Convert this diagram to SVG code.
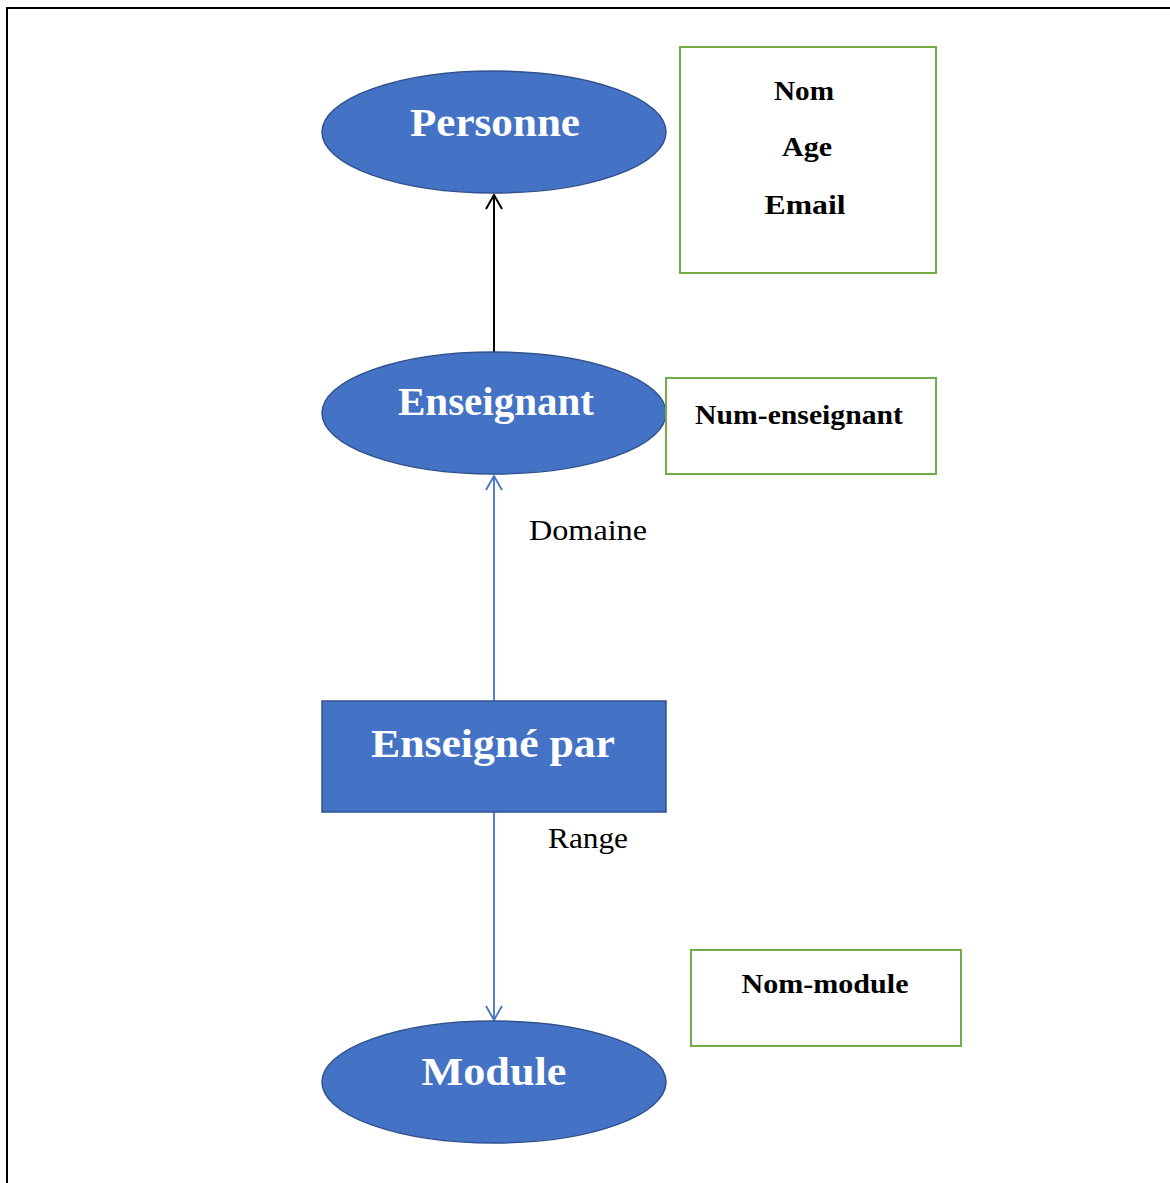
<svg xmlns="http://www.w3.org/2000/svg" width="1170" height="1183" viewBox="0 0 1170 1183">
  <defs>
    <style>
      .entity { fill: #4472C4; stroke: #2F528F; stroke-width: 1.5; }
      .entity-label { font-family: "Liberation Serif", "Times New Roman", serif; font-weight: bold; font-size: 40px; fill: #ffffff; text-anchor: middle; }
      .attr-box { fill: #ffffff; stroke: #70AD47; stroke-width: 2; }
      .attr-label { font-family: "Liberation Serif", "Times New Roman", serif; font-weight: bold; font-size: 28px; fill: #000000; text-anchor: middle; }
      .role-label { font-family: "Liberation Serif", "Times New Roman", serif; font-size: 30px; fill: #000000; text-anchor: middle; }
      .link-black { stroke: #000000; stroke-width: 2; fill: none; }
      .link-blue { stroke: #4472C4; stroke-width: 1.8; fill: none; }
    </style>
    <marker id="open-black" markerUnits="userSpaceOnUse" viewBox="0 0 18 18" markerWidth="18" markerHeight="18" refX="16" refY="9" orient="auto">
      <path d="M2,1 L16,9 L2,17" fill="none" stroke="#000000" stroke-width="2"/>
    </marker>
    <marker id="open-blue" markerUnits="userSpaceOnUse" viewBox="0 0 18 18" markerWidth="18" markerHeight="18" refX="16" refY="9" orient="auto">
      <path d="M2,1 L16,9 L2,17" fill="none" stroke="#4472C4" stroke-width="1.8"/>
    </marker>
  </defs>

  <!-- page frame -->
  <rect x="7" y="8" width="1180" height="1200" fill="#ffffff" stroke="#000000" stroke-width="2"/>

  <!-- connectors -->
  <g id="connectors">
    <line class="link-black" x1="494" y1="352" x2="494" y2="195" marker-end="url(#open-black)"/>
    <line class="link-blue" x1="494" y1="701" x2="494" y2="476" marker-end="url(#open-blue)"/>
    <line class="link-blue" x1="494" y1="812" x2="494" y2="1020" marker-end="url(#open-blue)"/>
    <text class="role-label" x="588" y="540" textLength="118" lengthAdjust="spacingAndGlyphs">Domaine</text>
    <text class="role-label" x="588" y="848" textLength="80" lengthAdjust="spacingAndGlyphs">Range</text>
  </g>

  <!-- Personne -->
  <g id="personne">
    <ellipse class="entity" cx="494" cy="132" rx="172" ry="61"/>
    <text class="entity-label" x="495" y="136" textLength="170" lengthAdjust="spacingAndGlyphs">Personne</text>
  </g>
  <g id="personne-attrs">
    <rect class="attr-box" x="680" y="47" width="256" height="226"/>
    <text class="attr-label" x="804" y="100" textLength="60" lengthAdjust="spacingAndGlyphs">Nom</text>
    <text class="attr-label" x="807" y="156" textLength="50" lengthAdjust="spacingAndGlyphs">Age</text>
    <text class="attr-label" x="805" y="214" textLength="81" lengthAdjust="spacingAndGlyphs">Email</text>
  </g>

  <!-- Enseignant -->
  <g id="enseignant">
    <ellipse class="entity" cx="494" cy="413" rx="172" ry="61"/>
    <text class="entity-label" x="496" y="415" textLength="196" lengthAdjust="spacingAndGlyphs">Enseignant</text>
  </g>
  <g id="enseignant-attrs">
    <rect class="attr-box" x="666" y="378" width="270" height="96"/>
    <text class="attr-label" x="799" y="424" textLength="208" lengthAdjust="spacingAndGlyphs">Num-enseignant</text>
  </g>

  <!-- Enseigné par -->
  <g id="enseigne-par">
    <rect class="entity" x="322" y="701" width="344" height="111"/>
    <text class="entity-label" x="493" y="757" textLength="244" lengthAdjust="spacingAndGlyphs">Enseigné par</text>
  </g>

  <!-- Module -->
  <g id="module">
    <ellipse class="entity" cx="494" cy="1082" rx="172" ry="61"/>
    <text class="entity-label" x="494" y="1085" textLength="145" lengthAdjust="spacingAndGlyphs">Module</text>
  </g>
  <g id="module-attrs">
    <rect class="attr-box" x="691" y="950" width="270" height="96"/>
    <text class="attr-label" x="825" y="993" textLength="167" lengthAdjust="spacingAndGlyphs">Nom-module</text>
  </g>
</svg>
